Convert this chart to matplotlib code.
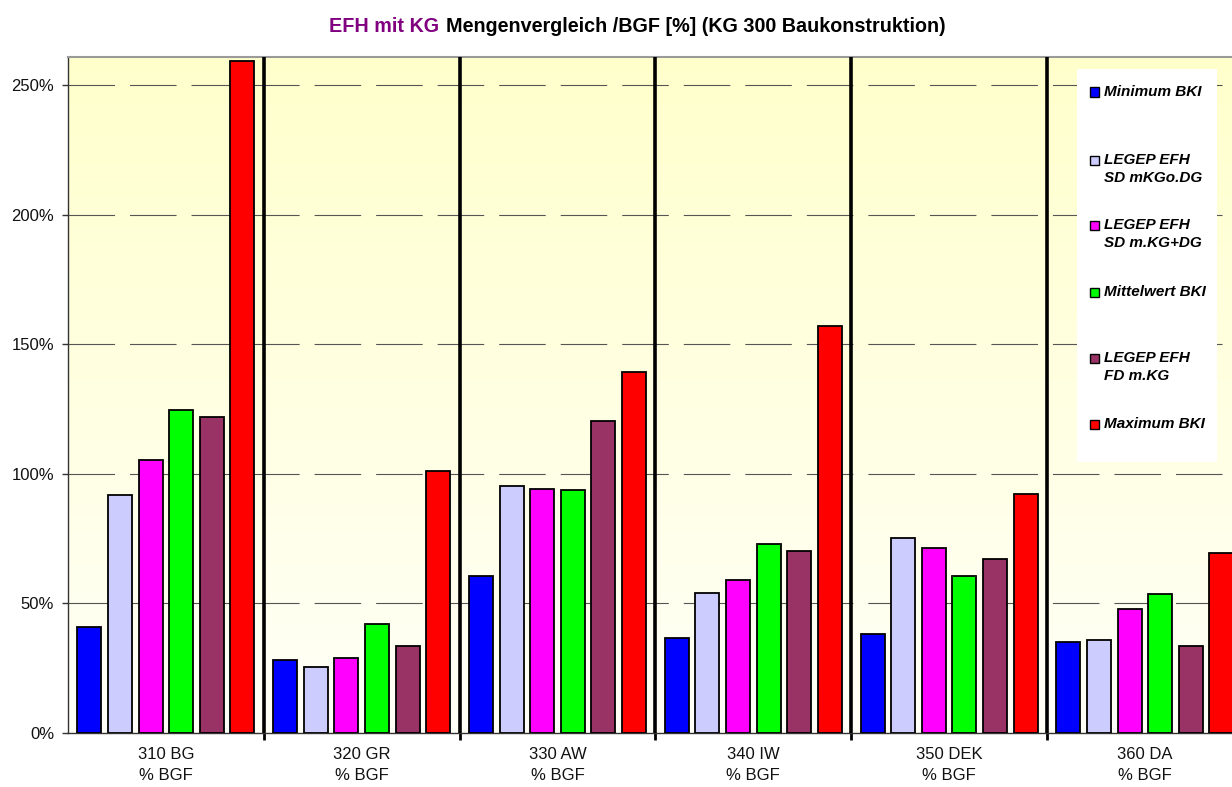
import numpy as np
import matplotlib
matplotlib.use("Agg")
import matplotlib.pyplot as plt
from matplotlib.patches import Rectangle
from matplotlib.offsetbox import TextArea, HPacker, AnchoredOffsetbox

plt.rcParams['font.family'] = ['Liberation Sans', 'DejaVu Sans']
plt.rcParams['lines.scale_dashes'] = False

# ---------------- data ----------------
categories = ["310 BG\n% BGF", "320 GR\n% BGF", "330 AW\n% BGF",
              "340 IW\n% BGF", "350 DEK\n% BGF", "360 DA\n% BGF"]
series_names = ["Minimum BKI", "LEGEP EFH\nSD mKGo.DG", "LEGEP EFH\nSD m.KG+DG",
                "Mittelwert BKI", "LEGEP EFH\nFD m.KG", "Maximum BKI"]
minimum_bki = [41.0, 28.0, 60.6, 36.5, 38.1, 35.2]
legep_sd_mkgo_dg = [91.8, 25.3, 95.4, 54.1, 75.2, 35.8]
legep_sd_mkg_dg = [105.3, 29.1, 94.2, 59.0, 71.5, 47.7]
mittelwert_bki = [124.7, 42.2, 93.7, 73.0, 60.6, 53.7]
legep_fd_mkg = [122.0, 33.4, 120.4, 70.1, 67.0, 33.4]
maximum_bki = [259.3, 101.2, 139.3, 157.1, 92.2, 69.4]
yticks = [0, 50, 100, 150, 200, 250]

series = [minimum_bki, legep_sd_mkgo_dg, legep_sd_mkg_dg,
          mittelwert_bki, legep_fd_mkg, maximum_bki]
colors = ["#0000FF", "#CCCCFF", "#FF00FF", "#00FF00", "#993366", "#FF0000"]

# ---------------- figure ----------------
W, H = 1232, 787
fig = plt.figure(figsize=(W / 100, H / 100), dpi=100)
fig.patch.set_facecolor("white")

px_left, px_top, px_bottom = 68, 57, 733
ax = fig.add_axes([px_left / W, (H - px_bottom) / H, (W - px_left) / W,
                   (px_bottom - px_top) / H])

group_px = 195.8
ax.set_xlim(0, (W - px_left) / group_px)
ax.set_ylim(0, (px_bottom - px_top) / 2.592)

# gradient background
grad = np.linspace(0, 1, 256)[:, None]
top = np.array([255, 255, 204]) / 255
bot = np.array([255, 255, 248]) / 255
img = top[None, None, :] * (1 - grad[..., None]) + bot[None, None, :] * grad[..., None]
ax.imshow(img, extent=(0, 1, 0, 1), transform=ax.transAxes, aspect='auto',
          zorder=0, interpolation='bilinear')
ax.set_facecolor("none")

# gridlines (dashed)
for y in yticks[1:]:
    ax.axhline(y, color="#555555", lw=0.8, linestyle=(0, (33.5, 10.8)), zorder=1)

# bars
n = len(series)
w = 0.1226
step = 0.1563
edge = (1 - (n * w + (n - 1) * (step - w))) / 2
x0 = np.arange(len(categories))
for i, (vals, c) in enumerate(zip(series, colors)):
    xs = x0 + edge + w / 2 + i * step
    ax.bar(xs, vals, width=w, color=c, edgecolor="black", linewidth=1.3, zorder=3)

# group separators
for k in range(1, len(categories)):
    ax.axvline(k, color="black", lw=2.6, zorder=4)

# axes styling
ax.spines["right"].set_visible(False)
ax.spines["left"].set_color("#333333")
ax.spines["left"].set_linewidth(1.0)
ax.spines["bottom"].set_color("#333333")
ax.spines["bottom"].set_linewidth(1.0)
ax.spines["top"].set_color("#9a9a9a")
ax.spines["top"].set_linewidth(1.5)

ax.set_yticks(yticks)
ax.set_yticklabels([f"{v}%" for v in yticks], fontsize=12, color="#111111")
ax.tick_params(axis='y', length=4, width=1, color="#333333", pad=6)

ax.set_xticks(np.arange(1, len(categories)))
ax.set_xticklabels([])
ax.tick_params(axis='x', which='major', length=5, width=2, color="black")
ax.set_xticks(x0 + 0.5, minor=True)
ax.set_xticklabels(categories, minor=True, fontsize=12, color="#111111",
                   linespacing=1.5)
ax.tick_params(axis='x', which='minor', length=0, pad=10)

# title (two colours)
t1 = TextArea("EFH mit KG", textprops=dict(color="#800080", fontsize=14.2,
                                           fontweight="bold"))
t2 = TextArea("Mengenvergleich /BGF [%] (KG 300 Baukonstruktion)",
              textprops=dict(color="black", fontsize=14.2, fontweight="bold"))
box = HPacker(children=[t1, t2], sep=5, pad=0, align="baseline")
anch = AnchoredOffsetbox(loc="center", child=box, pad=0, borderpad=0, frameon=False,
                         bbox_to_anchor=(637 / W, 1 - 27 / H),
                         bbox_transform=fig.transFigure)
fig.add_artist(anch)

# legend (manual, Excel style)
def fx(px):
    return px / W

def fy(py):
    return 1 - py / H

leg_l, leg_r, leg_t, leg_b = 1077, 1217, 69, 462
fig.add_artist(Rectangle((fx(leg_l), fy(leg_b)), fx(leg_r - leg_l), (leg_b - leg_t) / H,
                         transform=fig.transFigure, facecolor="white",
                         edgecolor="none", zorder=2))
entry_y = [92, 160, 225, 292, 358, 424]
for name, c, yy in zip(series_names, colors, entry_y):
    fig.add_artist(Rectangle((fx(1090), fy(yy + 4.5)), fx(9), 9 / H,
                             transform=fig.transFigure, facecolor=c,
                             edgecolor="black", linewidth=1.0, zorder=3))
    fig.text(fx(1104), fy(yy - 7), name, fontsize=11, fontweight="bold",
             fontstyle="italic", va="top", ha="left", linespacing=1.35,
             color="black", zorder=4)

fig.savefig("out.png", dpi=100)
